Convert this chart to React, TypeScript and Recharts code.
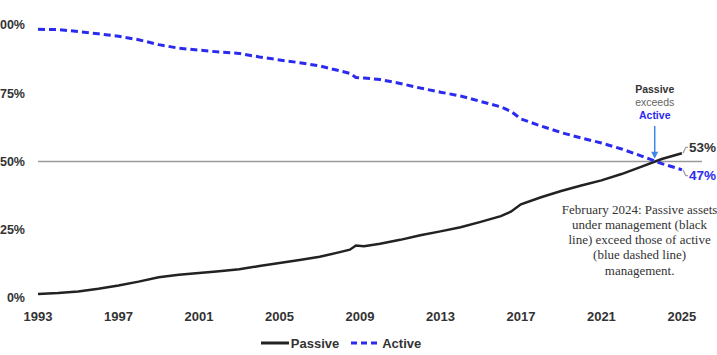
import React from 'react';
import { LineChart, Line, XAxis, YAxis, ReferenceLine, ReferenceDot, Legend } from 'recharts';

const years = [
  1993, 1994, 1995, 1996, 1997, 1998, 1999, 2000, 2001, 2002, 2003, 2004, 2005, 2006, 2007, 2008,
  2008.5, 2008.8, 2009.2, 2010, 2011, 2012, 2013, 2014, 2015, 2016, 2016.5, 2017, 2018, 2019, 2020,
  2021, 2022, 2023, 2024, 2025,
];
const passive = [
  1.5, 1.8, 2.4, 3.4, 4.6, 6.0, 7.6, 8.5, 9.2, 9.8, 10.5, 11.7, 12.8, 13.9, 15.1, 16.8,
  17.7, 19.2, 19.0, 19.9, 21.3, 23.0, 24.4, 25.9, 27.9, 30.0, 31.6, 34.3, 36.9, 39.2, 41.2,
  43.1, 45.4, 48.1, 50.9, 53.0,
];
const active = [
  98.4, 98.3, 97.6, 96.8, 95.9, 94.6, 92.8, 91.5, 90.8, 90.1, 89.6, 88.3, 87.2, 86.2, 85.0, 83.2,
  82.3, 80.8, 80.6, 80.0, 78.6, 76.9, 75.4, 74.0, 72.0, 70.0, 68.4, 65.6, 63.0, 60.6, 58.6,
  56.8, 54.6, 52.0, 49.2, 47.0,
];
const xTicks = [1993, 1997, 2001, 2005, 2009, 2013, 2017, 2021, 2025];
const yTicks = [0, 25, 50, 75, 100];
const crossover = 2023.65;
const noteLines = [
  'February 2024: Passive assets',
  'under management (black',
  'line) exceed those of active',
  '(blue dashed line)',
  'management.',
];

const data = years.map((year, i) => ({ year, passive: passive[i], active: active[i] }));

const SANS = '"Liberation Sans", Arial, sans-serif';
const SERIF = '"Liberation Serif", "Times New Roman", serif';
const BLUE = '#2b2bef';
const BLACK = '#222222';
const last = years.length - 1;

const EndLabel = (props: any) => {
  const { x, y, index, value, color, up } = props;
  if (index !== last) return null;
  const dy = up ? -6 : 6;
  return (
    <g>
      <polyline
        points={`${x + 1},${y} ${x + 4},${y + dy} ${x + 6},${y + dy}`}
        fill="none"
        stroke="#9a9a9a"
        strokeWidth={1.2}
      />
      <text
        x={x + 7}
        y={y + dy}
        dominantBaseline="central"
        fontFamily={SANS}
        fontWeight="bold"
        fontSize={13.5}
        fill={color}
      >
        {`${Math.round(value)}%`}
      </text>
    </g>
  );
};

const Arrow = (props: any) => {
  const { x1, y1, x2, y2 } = props;
  return (
    <g>
      <line x1={x1} y1={y1} x2={x2} y2={y2 - 6} stroke="#3d86e8" strokeWidth={1.5} />
      <path d={`M${x2 - 3.5},${y2 - 7} L${x2 + 3.5},${y2 - 7} L${x2},${y2} Z`} fill="#3d86e8" />
    </g>
  );
};

const CrossLabel = (props: any) => {
  const { cx, cy } = props;
  return (
    <g fontFamily={SANS} fontSize={10.5} textAnchor="middle">
      <text x={cx} y={cy} dominantBaseline="central" fontWeight="bold" fill="#333">Passive</text>
      <text x={cx} y={cy + 13} dominantBaseline="central" fill="#666">exceeds</text>
      <text x={cx} y={cy + 26} dominantBaseline="central" fontWeight="bold" fill={BLUE}>Active</text>
    </g>
  );
};

const Note = (props: any) => {
  const { cx, cy } = props;
  return (
    <g fontFamily={SERIF} fontSize={13} fill="#333" textAnchor="middle">
      {noteLines.map((t, i) => (
        <text key={i} x={cx} y={cy + i * 15.3} dominantBaseline="central">{t}</text>
      ))}
    </g>
  );
};

const renderLegend = () => (
  <div
    style={{
      display: 'flex',
      justifyContent: 'center',
      alignItems: 'center',
      height: 20,
      fontFamily: SANS,
      fontWeight: 'bold',
      fontSize: 13,
      color: '#333',
    }}
  >
    <svg width={28} height={10}>
      <line x1={0} y1={5} x2={28} y2={5} stroke={BLACK} strokeWidth={3} />
    </svg>
    <span style={{ marginLeft: 2, marginRight: 12 }}>Passive</span>
    <svg width={29} height={10}>
      <line x1={0} y1={5} x2={29} y2={5} stroke={BLUE} strokeWidth={3} strokeDasharray="6 4" />
    </svg>
    <span style={{ marginLeft: 2 }}>Active</span>
  </div>
);

export default function App() {
  return (
    <div style={{ position: 'absolute', left: -20, top: 0 }}>
      <LineChart width={737} height={355} data={data} margin={{ top: 25, right: 15, left: 0, bottom: 2 }}>
        <XAxis
          dataKey="year"
          type="number"
          domain={[1993, 2026]}
          ticks={xTicks}
          interval={0}
          tickLine={false}
          axisLine={false}
          height={35}
          tickMargin={8}
          tick={{ fontFamily: SANS, fontSize: 13, fontWeight: 'bold', fill: '#333' }}
        />
        <YAxis
          domain={[0, 100]}
          ticks={yTicks}
          width={58}
          tickLine={false}
          axisLine={false}
          tickMargin={7}
          tickFormatter={(v: number) => `${v}%`}
          tick={{ fontFamily: SANS, fontSize: 12.5, fontWeight: 'bold', fill: '#333' }}
        />
        <ReferenceLine y={50} stroke="#9a9a9a" strokeWidth={1.5} />
        <Legend verticalAlign="bottom" content={renderLegend} />
        <Line
          dataKey="passive"
          type="linear"
          stroke={BLACK}
          strokeWidth={2.5}
          dot={false}
          isAnimationActive={false}
          label={<EndLabel color="#333" up />}
        />
        <Line
          dataKey="active"
          type="linear"
          stroke={BLUE}
          strokeWidth={3}
          strokeDasharray="7 4"
          dot={false}
          isAnimationActive={false}
          label={<EndLabel color={BLUE} />}
        />
        <ReferenceLine
          segment={[{ x: crossover, y: 63 }, { x: crossover, y: 51 }]}
          shape={Arrow}
          ifOverflow="visible"
        />
        <ReferenceDot x={crossover} y={76.5} r={0} shape={CrossLabel} ifOverflow="visible" />
        <ReferenceDot x={2022.9} y={32.6} r={0} shape={Note} ifOverflow="visible" />
      </LineChart>
    </div>
  );
}
